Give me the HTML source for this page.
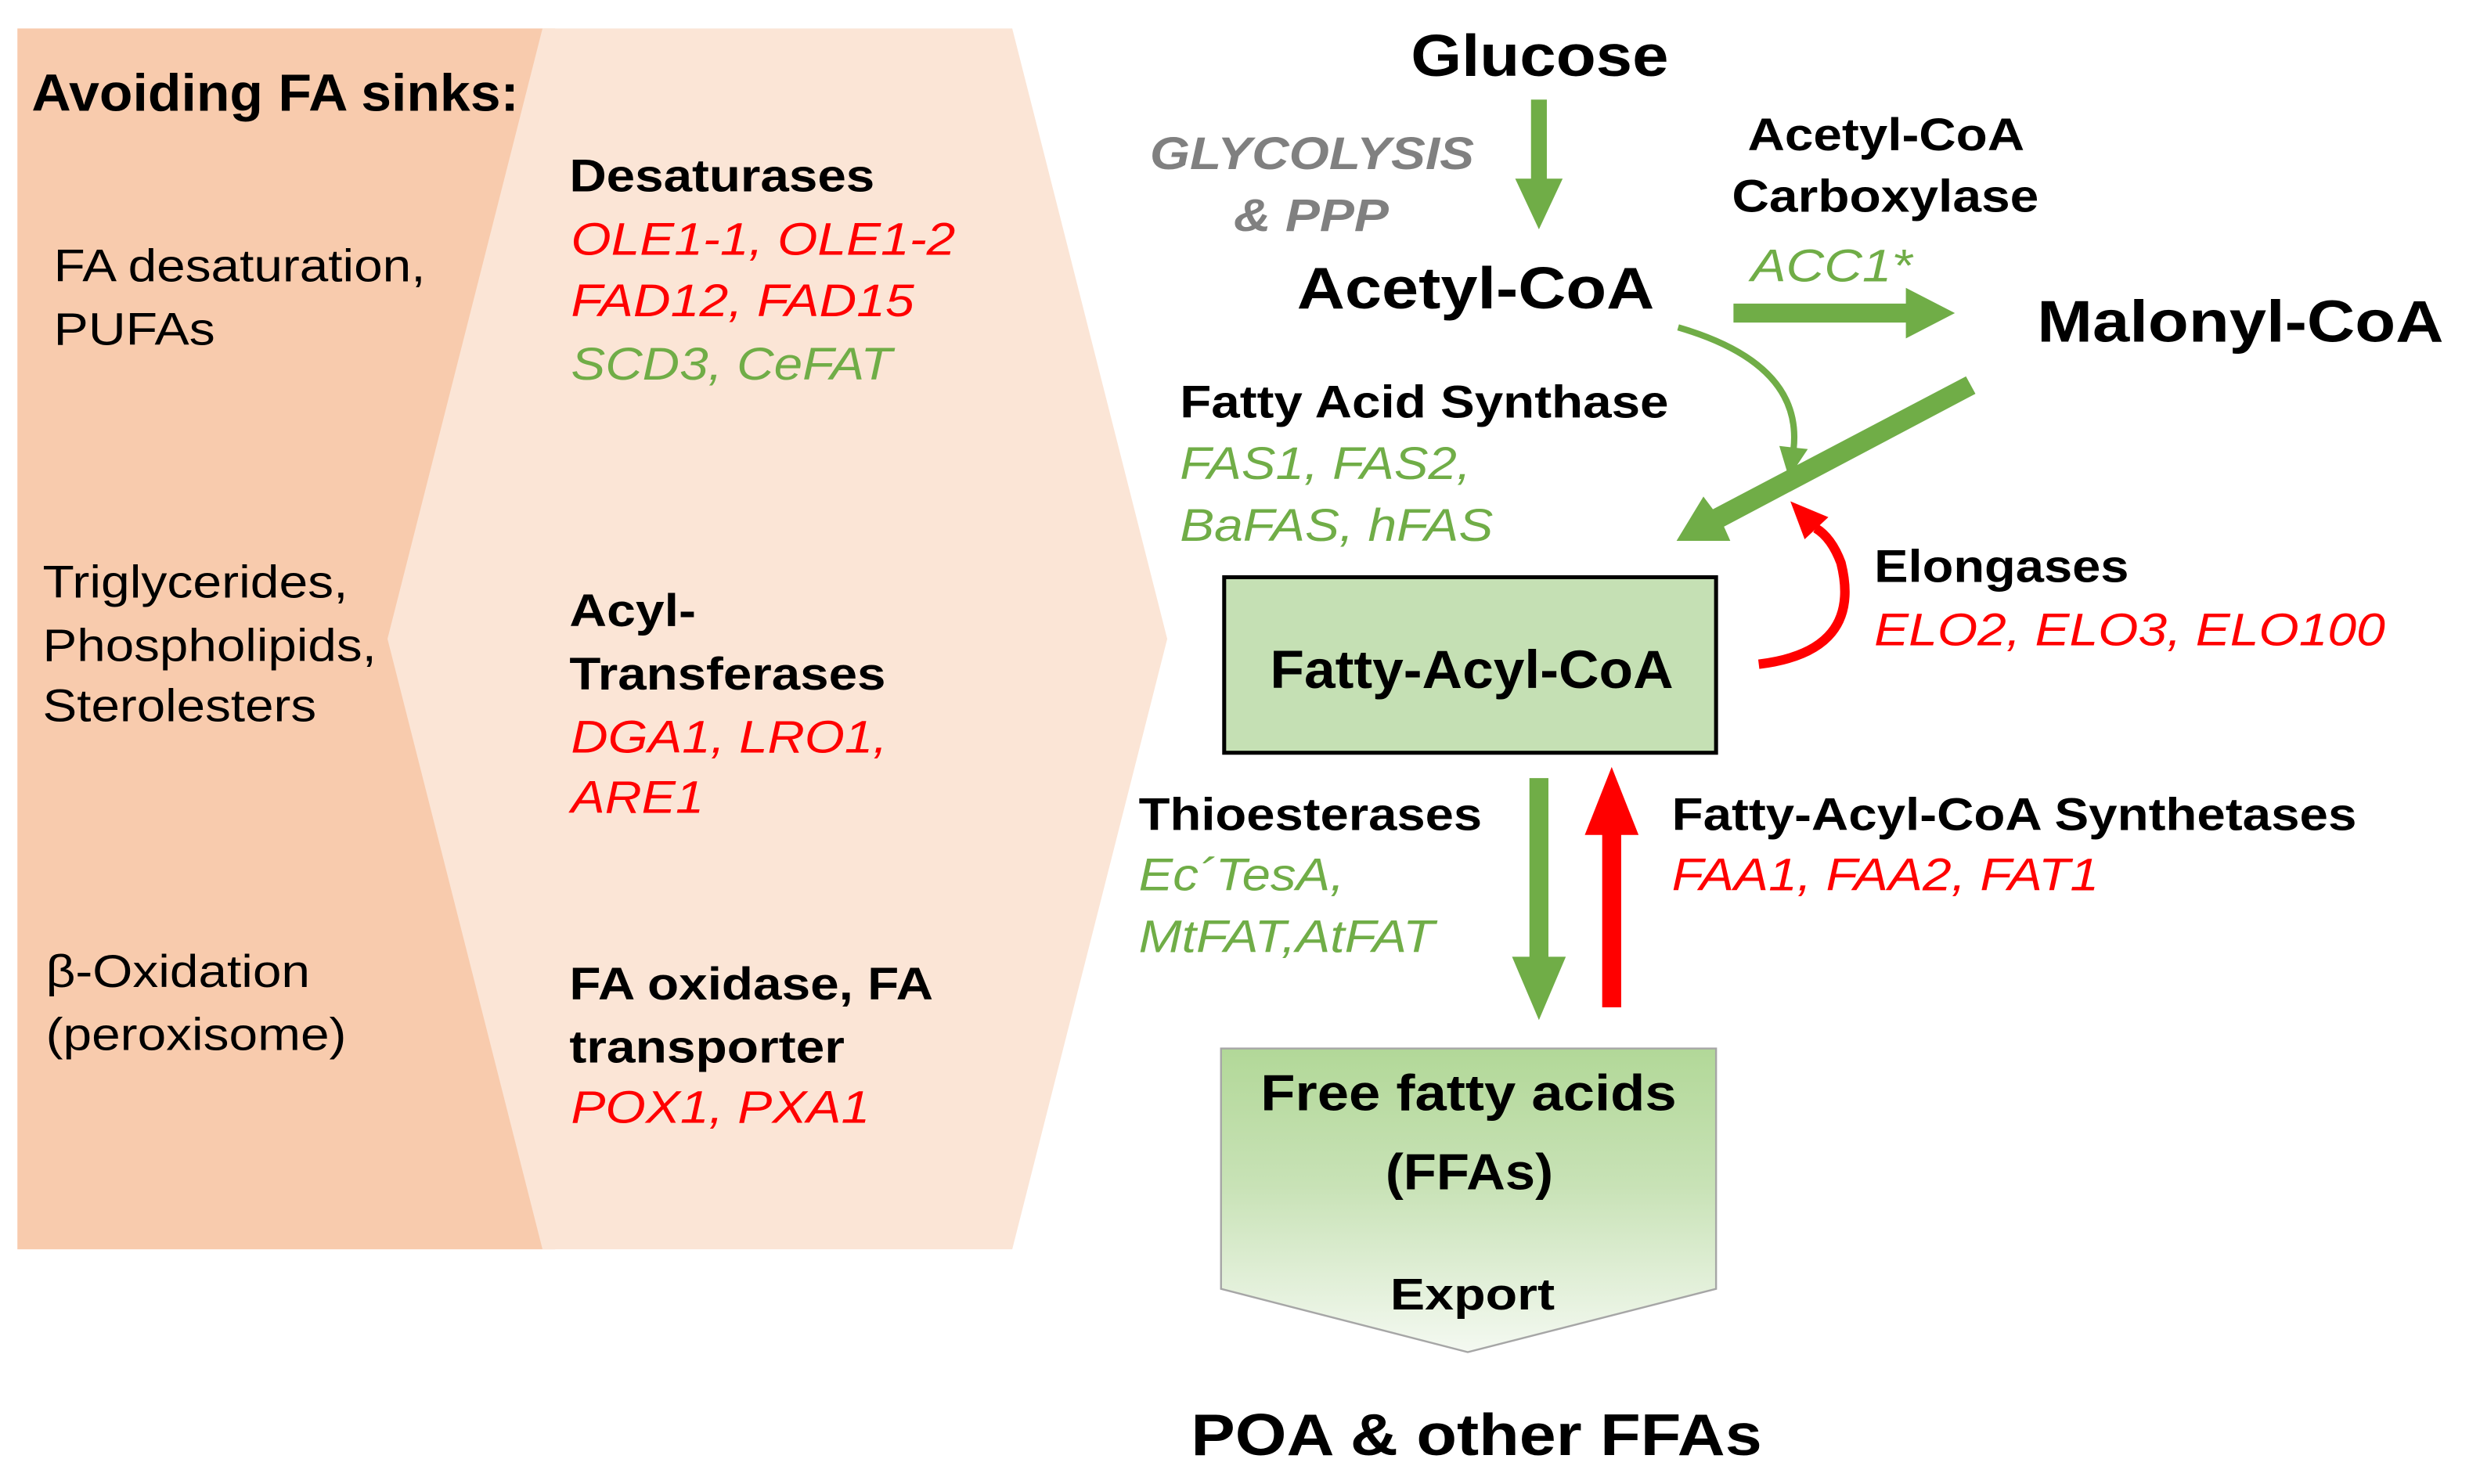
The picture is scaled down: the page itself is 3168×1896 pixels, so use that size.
<!DOCTYPE html>
<html><head><meta charset="utf-8"><style>
html,body{margin:0;padding:0;background:#fff;}
svg{display:block;}
text{font-family:"Liberation Sans",sans-serif;}
.b{font-weight:bold;fill:#000;}
.r{font-style:italic;fill:#FF0000;}
.g{font-style:italic;fill:#70AD47;}
.n{fill:#000;}
</style></head><body>
<svg width="3168" height="1896" viewBox="0 0 1568 938.4" preserveAspectRatio="none" xmlns="http://www.w3.org/2000/svg">
<defs>
<linearGradient id="ffa" x1="0" y1="0" x2="0" y2="1">
<stop offset="0" stop-color="#B2D898"/><stop offset="0.45" stop-color="#C8E2B6"/><stop offset="1" stop-color="#F4F9F1"/>
</linearGradient>
</defs>
<rect x="11" y="18" width="340" height="772" fill="#F8CBAD"/>
<polygon points="343,18 640,18 738,404 640,790 343,790 245,404" fill="#FBE5D6"/>

<text class="b" x="20" y="70" font-size="33" textLength="308" lengthAdjust="spacingAndGlyphs">Avoiding FA sinks:</text>
<text class="n" x="34" y="178" font-size="29" textLength="235" lengthAdjust="spacingAndGlyphs">FA desaturation,</text>
<text class="n" x="34" y="218" font-size="29" textLength="102" lengthAdjust="spacingAndGlyphs">PUFAs</text>
<text class="n" x="27" y="378" font-size="29" textLength="193" lengthAdjust="spacingAndGlyphs">Triglycerides,</text>
<text class="n" x="27" y="418" font-size="29" textLength="211" lengthAdjust="spacingAndGlyphs">Phospholipids,</text>
<text class="n" x="27" y="456" font-size="29" textLength="173" lengthAdjust="spacingAndGlyphs">Sterolesters</text>
<text class="n" x="29" y="624" font-size="29" textLength="167" lengthAdjust="spacingAndGlyphs">β-Oxidation</text>
<text class="n" x="29" y="664" font-size="29" textLength="190" lengthAdjust="spacingAndGlyphs">(peroxisome)</text>

<text class="b" x="360" y="121" font-size="29" textLength="193" lengthAdjust="spacingAndGlyphs">Desaturases</text>
<text class="r" x="361" y="161" font-size="29" textLength="243" lengthAdjust="spacingAndGlyphs">OLE1-1, OLE1-2</text>
<text class="r" x="361" y="200" font-size="29" textLength="217" lengthAdjust="spacingAndGlyphs">FAD12, FAD15</text>
<text class="g" x="361" y="240" font-size="29" textLength="203" lengthAdjust="spacingAndGlyphs">SCD3, CeFAT</text>
<text class="b" x="360" y="396" font-size="29" textLength="80" lengthAdjust="spacingAndGlyphs">Acyl-</text>
<text class="b" x="360" y="436" font-size="29" textLength="200" lengthAdjust="spacingAndGlyphs">Transferases</text>
<text class="r" x="361" y="476" font-size="29" textLength="200" lengthAdjust="spacingAndGlyphs">DGA1, LRO1,</text>
<text class="r" x="361" y="514" font-size="29" textLength="84" lengthAdjust="spacingAndGlyphs">ARE1</text>
<text class="b" x="360" y="632" font-size="29" textLength="230" lengthAdjust="spacingAndGlyphs">FA oxidase, FA</text>
<text class="b" x="360" y="672" font-size="29" textLength="174" lengthAdjust="spacingAndGlyphs">transporter</text>
<text class="r" x="361" y="710" font-size="29" textLength="189" lengthAdjust="spacingAndGlyphs">POX1, PXA1</text>

<text class="b" x="892" y="48" font-size="37" textLength="163" lengthAdjust="spacingAndGlyphs">Glucose</text>
<text x="727" y="107" font-size="29" font-weight="bold" font-style="italic" fill="#808080" textLength="205" lengthAdjust="spacingAndGlyphs">GLYCOLYSIS</text>
<text x="780" y="146" font-size="29" font-weight="bold" font-style="italic" fill="#808080" textLength="98" lengthAdjust="spacingAndGlyphs">&amp; PPP</text>
<polygon points="968,63 978,63 978,113 988,113 973,145 958,113 968,113" fill="#70AD47"/>
<text class="b" x="820" y="195" font-size="37" textLength="226" lengthAdjust="spacingAndGlyphs">Acetyl-CoA</text>
<text class="b" x="1105" y="95" font-size="29" textLength="175" lengthAdjust="spacingAndGlyphs">Acetyl-CoA</text>
<text class="b" x="1095" y="134" font-size="29" textLength="194" lengthAdjust="spacingAndGlyphs">Carboxylase</text>
<text class="g" x="1107" y="178" font-size="29" textLength="102" lengthAdjust="spacingAndGlyphs">ACC1*</text>
<polygon points="1096,192 1205,192 1205,182 1236,198 1205,214 1205,204 1096,204" fill="#70AD47"/>
<text class="b" x="1288" y="216" font-size="37" textLength="257" lengthAdjust="spacingAndGlyphs">Malonyl-CoA</text>

<path d="M1061,207 Q1140,230 1134,284" fill="none" stroke="#70AD47" stroke-width="4"/>
<polygon points="1125,282 1143,284 1131,302" fill="#70AD47"/>
<polygon points="1243,238 1249,249 1090,333 1094,342 1060,342 1077,314 1083,322" fill="#70AD47"/>

<text class="b" x="746" y="264" font-size="29" textLength="309" lengthAdjust="spacingAndGlyphs">Fatty Acid Synthase</text>
<text class="g" x="746" y="303" font-size="29" textLength="184" lengthAdjust="spacingAndGlyphs">FAS1, FAS2,</text>
<text class="g" x="746" y="342" font-size="29" textLength="198" lengthAdjust="spacingAndGlyphs">BaFAS, hFAS</text>

<rect x="774" y="365" width="311" height="111" fill="#C5E0B4" stroke="#000" stroke-width="2.5"/>
<text class="b" x="803" y="435" font-size="34" textLength="255" lengthAdjust="spacingAndGlyphs">Fatty-Acyl-CoA</text>

<path d="M1112,420 Q1178,412 1164,356 Q1158,340 1148,334" fill="none" stroke="#FF0000" stroke-width="6"/>
<polygon points="1132,317 1156,327 1141,341" fill="#FF0000"/>
<text class="b" x="1185" y="368" font-size="29" textLength="161" lengthAdjust="spacingAndGlyphs">Elongases</text>
<text class="r" x="1185" y="408" font-size="29" textLength="323" lengthAdjust="spacingAndGlyphs">ELO2, ELO3, ELO100</text>

<polygon points="967,492 979,492 979,605 990,605 973,645 956,605 967,605" fill="#70AD47"/>
<polygon points="1013,637 1025,637 1025,528 1036,528 1019,485 1002,528 1013,528" fill="#FF0000"/>
<text class="b" x="720" y="525" font-size="29" textLength="217" lengthAdjust="spacingAndGlyphs">Thioesterases</text>
<text class="g" x="720" y="563" font-size="29" textLength="130" lengthAdjust="spacingAndGlyphs">Ec´TesA,</text>
<text class="g" x="720" y="602" font-size="29" textLength="187" lengthAdjust="spacingAndGlyphs">MtFAT,AtFAT</text>
<text class="b" x="1057" y="525" font-size="29" textLength="433" lengthAdjust="spacingAndGlyphs">Fatty-Acyl-CoA Synthetases</text>
<text class="r" x="1057" y="563" font-size="29" textLength="270" lengthAdjust="spacingAndGlyphs">FAA1, FAA2, FAT1</text>

<polygon points="772,663 1085,663 1085,815 928,855 772,815" fill="url(#ffa)" stroke="#A6A6A6" stroke-width="1.2"/>
<text class="b" x="797" y="702" font-size="32" textLength="263" lengthAdjust="spacingAndGlyphs">Free fatty acids</text>
<text class="b" x="876" y="752" font-size="32" textLength="106" lengthAdjust="spacingAndGlyphs">(FFAs)</text>
<text class="b" x="879" y="828" font-size="28" textLength="104" lengthAdjust="spacingAndGlyphs">Export</text>

<text class="b" x="753" y="920" font-size="37" textLength="361" lengthAdjust="spacingAndGlyphs">POA &amp; other FFAs</text>
</svg>
</body></html>
